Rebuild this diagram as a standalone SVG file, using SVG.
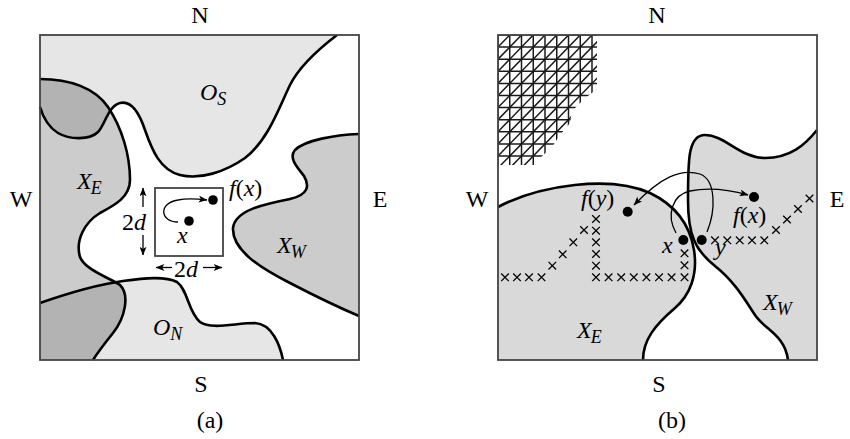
<svg xmlns="http://www.w3.org/2000/svg" xmlns:xlink="http://www.w3.org/1999/xlink" width="850" height="439" viewBox="0 0 850 439">
<style>
  .t { font-family: "Liberation Serif", "Times New Roman", serif; font-size: 24px; fill: #000; }
  .m { font-family: "Liberation Serif", "Times New Roman", serif; font-size: 24px; font-style: italic; fill: #000; }
  .sub { font-size: 18px; }
  .up { font-style: normal; }
  .it { font-style: italic; }
  .frame { fill: none; stroke: #444; stroke-width: 1.8; }
  .bd { fill: none; stroke: #000; stroke-width: 2.6; stroke-linejoin: round; }
  .light { fill: #e6e6e6; }
  .mid { fill: #cccccc; }
  .dark { fill: #b3b3b3; }
  .rg { fill: #d9d9d9; }
  .arr { fill: none; stroke: #000; stroke-width: 1.3; }
  .dot { fill: #000; }
  .hatch { fill: none; stroke: #1a1a1a; stroke-width: 1.5; }
  .cx { fill: none; stroke: #000; stroke-width: 1.3; }
</style>
<defs>
  <marker id="ah" viewBox="0 0 10 8" refX="9.5" refY="4" markerWidth="10" markerHeight="7" markerUnits="userSpaceOnUse" orient="auto-start-reverse">
    <path d="M0,0 L10,4 L0,8 L2.5,4 Z" fill="#000"/>
  </marker>
  <path id="cx" class="cx" d="M-3.8,-3.8 L3.8,3.8 M-3.8,3.8 L3.8,-3.8"/>
  <path id="OSshape" d="M40,35 H337 C320,48 300,65 290,85 C278,110 268,140 245,158 C225,172 200,180 180,175 C160,170 152,150 145,130 C140,115 132,100 120,103 C108,106 105,125 98,132 C90,140 70,140 58,133 C48,127 43,117 40,107 Z"/>
  <path id="ONshape" d="M40,303 C60,296 95,285 123,281 C145,278 165,276 177,282 C188,290 188,312 200,322 C212,330 235,323 255,323 C272,324 280,345 283,360 L40,360 Z"/>
  <path id="XEshape" d="M40,79 C70,79 95,88 108,107 C122,128 130,155 130,180 C130,197 115,205 100,213 C85,222 75,240 80,257 C85,270 110,278 120,285 C130,295 125,318 113,333 C105,343 98,352 93,360 L40,360 Z"/>
  <clipPath id="clipOS"><use xlink:href="#OSshape"/></clipPath>
  <clipPath id="clipON"><use xlink:href="#ONshape"/></clipPath>
  <clipPath id="clipHatch"><path d="M498,35 L597,35 L597,89 L584,99 L572,111 L570,123 L560,135 L552,147 L540,158 L535,165 L498,165 Z"/></clipPath>
</defs>

<rect width="850" height="439" fill="#fff"/>

<!-- Panel (a) -->
<g id="panel-a">
  <g id="a-regions">
    <use xlink:href="#OSshape" class="light"/>
    <use xlink:href="#ONshape" class="light"/>
    <use xlink:href="#XEshape" class="mid"/>
    <use xlink:href="#XEshape" class="dark" clip-path="url(#clipOS)"/>
    <use xlink:href="#XEshape" class="dark" clip-path="url(#clipON)"/>
    <path id="XWshape-a" class="mid" d="M359,134 C335,135 305,140 295,150 C288,158 298,168 304,176 C310,186 308,195 290,199 C265,204 235,210 233,228 C232,250 260,268 290,283 C315,296 340,308 359,316 Z"/>
  </g>
  <g id="a-boundaries">
    <path class="bd" d="M337,35 C320,48 300,65 290,85 C278,110 268,140 245,158 C225,172 200,180 180,175 C160,170 152,150 145,130 C140,115 132,100 120,103 C108,106 105,125 98,132 C90,140 70,140 58,133 C48,127 43,117 40,107"/>
    <path class="bd" d="M40,79 C70,79 95,88 108,107 C122,128 130,155 130,180 C130,197 115,205 100,213 C85,222 75,240 80,257 C85,270 110,278 120,285 C130,295 125,318 113,333 C105,343 98,352 93,360"/>
    <path class="bd" d="M40,303 C60,296 95,285 123,281 C145,278 165,276 177,282 C188,290 188,312 200,322 C212,330 235,323 255,323 C272,324 280,345 283,360"/>
    <path class="bd" d="M359,134 C335,135 305,140 295,150 C288,158 298,168 304,176 C310,186 308,195 290,199 C265,204 235,210 233,228 C232,250 260,268 290,283 C315,296 340,308 359,316"/>
  </g>
  <rect id="a-frame" class="frame" x="40" y="35" width="319" height="325"/>
  <g id="a-box">
    <rect class="frame" x="155" y="188" width="68" height="68"/>
    <circle class="dot" cx="213" cy="200" r="4.8"/>
    <circle class="dot" cx="189" cy="221" r="4.8"/>
    <path class="arr" d="M178,222 C160,222 158,203 178,200 C188,198 198,199 207,200" marker-end="url(#ah)"/>
  </g>
  <g id="a-dims">
    <line class="arr" x1="143" y1="207" x2="143" y2="188" marker-end="url(#ah)"/>
    <line class="arr" x1="143" y1="235" x2="143" y2="255" marker-end="url(#ah)"/>
    <line class="arr" x1="172" y1="267.5" x2="156" y2="267.5" marker-end="url(#ah)"/>
    <line class="arr" x1="203" y1="267.5" x2="222" y2="267.5" marker-end="url(#ah)"/>
    <text class="t" x="122" y="230">2<tspan class="it">d</tspan></text>
    <text class="t" x="174" y="277">2<tspan class="it">d</tspan></text>
  </g>
  <g id="a-labels">
    <text class="t" x="200" y="23" text-anchor="middle">N</text>
    <text class="t" x="201" y="392" text-anchor="middle">S</text>
    <text class="t" x="21" y="207" text-anchor="middle">W</text>
    <text class="t" x="380" y="207" text-anchor="middle">E</text>
    <text class="t" x="210" y="428" text-anchor="middle">(a)</text>
    <text class="m" x="200" y="100">O<tspan class="sub" dy="5">S</tspan></text>
    <text class="m" x="77" y="189">X<tspan class="sub" dy="5" dx="-1">E</tspan></text>
    <text class="m" x="277" y="253">X<tspan class="sub" dy="5" dx="-1">W</tspan></text>
    <text class="m" x="153" y="335">O<tspan class="sub" dy="5">N</tspan></text>
    <text class="m" x="229" y="196">f<tspan class="up">(</tspan>x<tspan class="up">)</tspan></text>
    <text class="m" x="177" y="243">x</text>
  </g>
</g>

<!-- Panel (b) -->
<g id="panel-b">
  <g id="b-regions">
    <path id="XE-b" class="rg" d="M498,207 C540,185 610,175 650,193 C675,205 690,225 694,250 C698,275 690,295 675,308 C655,325 643,340 643,360 L498,360 Z"/>
    <path id="XW-b" class="rg" d="M817,130 C805,145 790,158 765,158 C740,158 725,135 705,135 C688,135 688,160 688,200 C688,235 695,250 715,266 C735,282 745,300 755,315 C765,330 785,335 788,360 L817,360 Z"/>
  </g>
  <g id="b-hatch" clip-path="url(#clipHatch)">
    <path class="hatch" d="M498,35 H600 M498,47.1 H600 M498,59.2 H600 M498,71.3 H600 M498,83.4 H600 M498,95.5 H600 M498,107.6 H600 M498,119.7 H600 M498,131.8 H600 M498,143.9 H600 M498,156 H600
      M498,35 V170 M509.75,35 V170 M521.5,35 V170 M533.25,35 V170 M545,35 V170 M556.75,35 V170 M568.5,35 V170 M580.25,35 V170 M592,35 V170"/>
    <path class="hatch" d="M498,47.1 L509.75,35 M498,59.2 L521.5,35 M498,71.3 L533.25,35 M498,83.4 L545,35 M498,95.5 L556.75,35 M498,107.6 L568.5,35 M498,119.7 L580.25,35 M498,131.8 L592,35 M498,143.9 L603.75,35 M498,156 L615.5,35 M498,168.1 L627.25,35 M498,180.2 L639,35 M498,192.3 L650.75,35 M498,204.4 L662.5,35 M498,216.5 L674.25,35 M498,228.6 L686,35"/>
  </g>
  <g id="b-boundaries">
    <path class="bd" d="M498,207 C540,185 610,175 650,193 C675,205 690,225 694,250 C698,275 690,295 675,308 C655,325 643,340 643,360"/>
    <path class="bd" d="M817,130 C805,145 790,158 765,158 C740,158 725,135 705,135 C688,135 688,160 688,200 C688,235 695,250 715,266 C735,282 745,300 755,315 C765,330 785,335 788,360"/>
  </g>
  <rect id="b-frame" class="frame" x="498" y="35" width="319" height="325"/>
  <g id="b-crosses">
    <use xlink:href="#cx" x="505" y="277.3"/>
    <use xlink:href="#cx" x="517" y="277.3"/>
    <use xlink:href="#cx" x="529" y="277.3"/>
    <use xlink:href="#cx" x="541.5" y="277.3"/>
    <use xlink:href="#cx" x="552.3" y="265.7"/>
    <use xlink:href="#cx" x="562.7" y="254.3"/>
    <use xlink:href="#cx" x="573.3" y="242.3"/>
    <use xlink:href="#cx" x="584" y="230"/>
    <use xlink:href="#cx" x="596" y="219"/>
    <use xlink:href="#cx" x="596" y="230.7"/>
    <use xlink:href="#cx" x="596" y="242.3"/>
    <use xlink:href="#cx" x="596" y="254"/>
    <use xlink:href="#cx" x="596" y="265.7"/>
    <use xlink:href="#cx" x="596" y="277.3"/>
    <use xlink:href="#cx" x="608.6" y="277.3"/>
    <use xlink:href="#cx" x="621.2" y="277.3"/>
    <use xlink:href="#cx" x="633.8" y="277.3"/>
    <use xlink:href="#cx" x="646.4" y="277.3"/>
    <use xlink:href="#cx" x="659" y="277.3"/>
    <use xlink:href="#cx" x="671.6" y="277.3"/>
    <use xlink:href="#cx" x="684.5" y="277.3"/>
    <use xlink:href="#cx" x="684.5" y="265.3"/>
    <use xlink:href="#cx" x="684.5" y="253.3"/>
    <use xlink:href="#cx" x="715" y="240.3"/>
    <use xlink:href="#cx" x="727.3" y="240.3"/>
    <use xlink:href="#cx" x="739.7" y="240.3"/>
    <use xlink:href="#cx" x="752" y="240.3"/>
    <use xlink:href="#cx" x="764.3" y="240.3"/>
    <use xlink:href="#cx" x="776" y="230"/>
    <use xlink:href="#cx" x="787" y="219.5"/>
    <use xlink:href="#cx" x="798" y="209"/>
    <use xlink:href="#cx" x="809.5" y="198.5"/>
  </g>
  <g id="b-points">
    <circle class="dot" cx="683.3" cy="240" r="5"/>
    <circle class="dot" cx="701.7" cy="240" r="5"/>
    <circle class="dot" cx="754" cy="197" r="5"/>
    <circle class="dot" cx="627.7" cy="211.7" r="5"/>
  </g>
  <g id="b-arrows">
    <path class="arr" d="M707,232 C716,210 716,180 700,174 C680,168 660,178 634,205" marker-end="url(#ah)"/>
    <path class="arr" d="M676,233 C666,215 672,195 690,191 C710,187 730,190 748,195" marker-end="url(#ah)"/>
  </g>
  <g id="b-labels">
    <text class="t" x="657" y="23" text-anchor="middle">N</text>
    <text class="t" x="659" y="392" text-anchor="middle">S</text>
    <text class="t" x="477" y="207" text-anchor="middle">W</text>
    <text class="t" x="837" y="207" text-anchor="middle">E</text>
    <text class="t" x="672" y="428" text-anchor="middle">(b)</text>
    <text class="m" x="581" y="206">f<tspan class="up">(</tspan>y<tspan class="up">)</tspan></text>
    <text class="m" x="733" y="223">f<tspan class="up">(</tspan>x<tspan class="up">)</tspan></text>
    <text class="m" x="662" y="253">x</text>
    <text class="m" x="715" y="255">y</text>
    <text class="m" x="577" y="338">X<tspan class="sub" dy="5" dx="-1">E</tspan></text>
    <text class="m" x="763" y="310">X<tspan class="sub" dy="5" dx="-1">W</tspan></text>
  </g>
</g>
</svg>
